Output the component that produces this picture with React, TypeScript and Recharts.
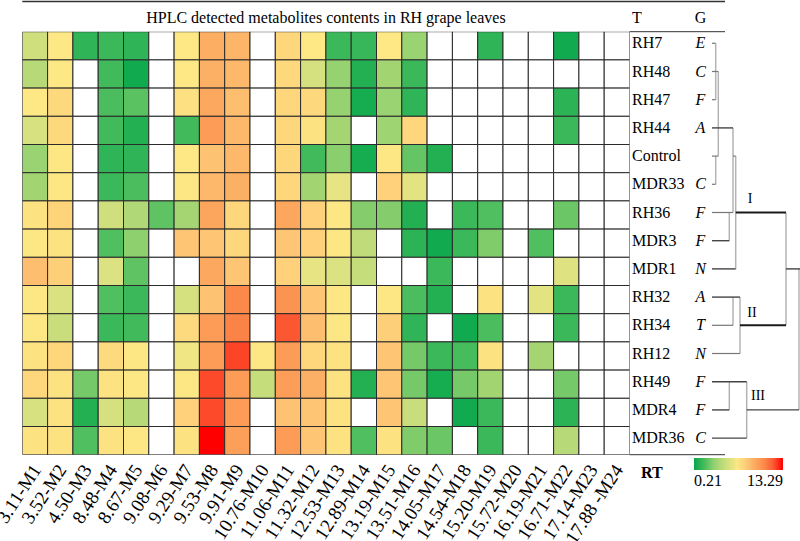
import React from "react"
import { ScatterChart, Scatter, XAxis, YAxis, Customized } from "recharts"

// metabolite retention times (x) and strains (y)
const METABOLITES = [
  "3.11-M1","3.52-M2","4.50-M3","8.48-M4","8.67-M5","9.08-M6","9.29-M7","9.53-M8",
  "9.91-M9","10.76-M10","11.06-M11","11.32-M12","12.53-M13","12.89-M14","13.19-M15","13.51-M16",
  "14.05-M17","14.54-M18","15.20-M19","15.72-M20","16.19-M21","16.71-M22","17.14-M23","17.88 -M24",
]
const STRAINS = ["RH7","RH48","RH47","RH44","Control","MDR33","RH36","MDR3","MDR1","RH32","RH34","RH12","RH49","MDR4","MDR36"]
const GROUPS = ["E","C","F","A","","C","F","F","N","A","T","N","F","F","C"]

// contents, null = not detected
const rh7 = [5.0,6.5,1.2,1.5,1.2,null,6.5,9.0,8.7,null,7.4,6.5,1.5,1.4,6.5,3.4,null,null,1.2,null,null,0.5,null,null]
const rh48 = [4.2,6.5,null,1.6,0.5,null,6.5,8.9,8.6,null,7.3,5.2,3.3,0.9,3.6,1.5,null,null,null,null,null,null,null,null]
const rh47 = [6.5,7.3,null,1.8,2.1,null,6.9,9.2,8.4,null,7.4,7.3,3.3,0.6,3.4,1.2,null,null,null,null,null,1.1,null,null]
const rh44 = [5.3,7.3,null,1.6,0.9,null,1.6,9.8,8.6,null,7.4,6.8,3.7,null,3.5,7.4,null,null,null,null,null,1.5,null,null]
const control = [3.4,6.6,null,1.2,1.2,null,6.5,8.2,8.6,null,7.4,1.6,3.0,0.6,6.6,2.3,0.9,null,null,null,null,null,null,null]
const mdr33 = [3.6,6.6,null,1.5,1.8,null,6.6,8.6,8.9,null,7.4,3.6,5.9,null,7.6,5.8,null,null,null,null,null,null,null,null]
const rh36 = [6.8,7.5,null,5.0,4.0,2.2,3.7,9.4,7.4,null,9.3,7.6,6.6,2.9,2.9,0.9,null,1.5,1.9,null,null,2.4,null,null]
const mdr3 = [6.6,6.8,null,1.9,3.1,null,8.1,8.1,7.4,null,8.1,7.6,6.6,4.5,null,1.1,0.5,1.5,2.8,null,1.9,null,null,null]
const mdr1 = [8.4,7.7,null,5.5,2.2,null,null,9.2,8.1,null,7.6,5.9,5.5,4.7,null,null,1.5,null,null,null,null,5.6,null,null]
const rh32 = [6.6,5.4,null,1.9,1.5,null,5.2,8.2,10.5,null,10.1,8.1,6.6,null,6.6,1.8,0.9,null,6.8,null,5.8,1.5,null,null]
const rh34 = [6.6,4.8,null,1.5,1.6,null,7.2,9.8,10.7,null,11.9,8.4,6.6,null,7.7,1.2,null,0.5,1.8,null,null,1.5,null,null]
const rh12 = [6.8,7.4,null,7.2,6.6,null,6.2,9.8,12.2,6.6,9.8,7.4,6.8,null,8.1,2.6,1.5,1.7,6.8,null,3.7,null,null,null]
const rh49 = [7.4,6.8,2.6,6.8,6.6,null,6.6,12.1,9.8,4.7,9.7,8.9,6.8,0.9,8.1,2.6,0.6,2.6,3.6,null,null,2.6,null,null]
const mdr4 = [5.3,6.8,0.9,5.2,4.2,null,7.6,12.1,9.8,null,8.2,8.1,6.8,null,8.1,4.8,null,0.5,1.5,null,null,1.1,null,null]
const mdr36 = [6.8,6.8,1.9,6.8,6.6,null,6.8,13.29,9.6,null,9.8,8.1,6.8,1.9,6.8,2.8,2.4,null,1.5,null,null,4.2,null,null]
const CONTENTS = [rh7,rh48,rh47,rh44,control,mdr33,rh36,mdr3,mdr1,rh32,rh34,rh12,rh49,mdr4,mdr36]

const V_MIN = 0.21
const V_MAX = 13.29
const COLOR_STOPS: [number, string][] = [
  [0, "#06a64c"], [0.1, "#3cb95a"], [0.22, "#8fd06e"], [0.3, "#b5d977"], [0.38, "#d4e07f"],
  [0.45, "#ece584"], [0.48, "#fde885"], [0.55, "#fed67c"], [0.62, "#fdc072"], [0.68, "#fcab60"],
  [0.74, "#fc9a55"], [0.8, "#fb8447"], [0.89, "#fb5a33"], [1, "#ff0000"],
]

// dendrogram: horizontals [row, fromDist, toDist, kind], verticals [dist, rowA, rowB]
const DEND_H: [number, number, number, string][] = [
  [0,0,3.7,"leaf"],[1,0,6.3,"leaf"],[2,0,3.7,"leaf"],[3,0,21,"link"],[4,0,6.3,"leaf"],[4,21,23.7,"leaf"],
  [5,0,3.7,"leaf"],[6,0,21,"leaf"],[6,23.7,74,"major"],[7,0,17.3,"link"],[8,0,23.7,"link"],[8,74,88,"link"],
  [9,0,28,"link"],[10,0,21,"leaf"],[10,28,74,"major"],[11,0,28,"leaf"],[12,0,34.7,"link"],[13,0,17.3,"link"],
  [13,34.7,87,"link"],[14,0,34.7,"link"],
]
const DEND_V: [number, number, number][] = [
  [3.7,0,2],[6.3,1,4],[3.7,4,5],[21,3,6],[17.3,6,7],[23.7,4,8],[74,6,10],[21,9,10],[28,9,11],[17.3,12,13],[34.7,12,14],[87,8,13],
]
const CLUSTERS: [string, number, number][] = [["I", 5.49, 38], ["II", 9.52, 40], ["III", 12.48, 46]]

const W = 800
const H = 541
const M = { top: 31.7, left: 22.3 }
const Y_AXIS_W = 170.5
const X_AXIS_H = 86.3
const PLOT_W = W - M.left - Y_AXIS_W
const PLOT_H = H - M.top - X_AXIS_H
const CELL_W = PLOT_W / METABOLITES.length
const CELL_H = PLOT_H / STRAINS.length
const FONT = "'Liberation Serif', 'Times New Roman', serif"
const serif = { fontFamily: FONT }

const rowY = (r: number) => M.top + (r + 0.5) * CELL_H - 2.5
const dendX = (d: number) => M.left + PLOT_W + 82.5 + d

function hexToRgb(h: string) {
  const n = parseInt(h.slice(1), 16)
  return [(n >> 16) & 255, (n >> 8) & 255, n & 255]
}

function colorFor(v: number | null) {
  if (v == null) return "#ffffff"
  const t = Math.max(0, Math.min(1, (v - V_MIN) / (V_MAX - V_MIN)))
  for (let i = 1; i < COLOR_STOPS.length; i++) {
    const [t1, c1] = COLOR_STOPS[i]
    const [t0, c0] = COLOR_STOPS[i - 1]
    if (t <= t1) {
      const f = (t - t0) / (t1 - t0)
      const a = hexToRgb(c0), b = hexToRgb(c1)
      const c = a.map((x, k) => Math.round(x + (b[k] - x) * f))
      return `rgb(${c[0]},${c[1]},${c[2]})`
    }
  }
  return COLOR_STOPS[COLOR_STOPS.length - 1][1]
}

const cells = CONTENTS.flatMap((row, r) =>
  row.map((v, c) => ({ x: c + 0.5, y: r + 0.5, v }))
)

function CellShape(props: any) {
  const { cx, cy, payload } = props
  return (
    <rect x={cx - CELL_W / 2} y={cy - CELL_H / 2} width={CELL_W} height={CELL_H}
      fill={colorFor(payload.v)} stroke="#2a2a2a" strokeWidth={1} />
  )
}

function XTick({ x, y, payload }: any) {
  const label = METABOLITES[Math.floor(payload.value)]
  const ax = x + 7
  const ay = y + 13
  return (
    <text x={ax} y={ay} textAnchor="end" transform={`rotate(-57, ${ax}, ${ay})`}
      style={serif} fontSize={19} fill="#000">{label}</text>
  )
}

function YTick({ x, y, payload }: any) {
  const i = Math.floor(payload.value)
  return (
    <g>
      <text x={x + 2.5} y={y + 2.5} style={serif} fontSize={16} fill="#000">{STRAINS[i]}</text>
      <text x={x + 71} y={y + 2.5} textAnchor="middle" style={serif} fontSize={16}
        fontStyle="italic" fill="#000">{GROUPS[i]}</text>
    </g>
  )
}

const STYLE: Record<string, { stroke: string; w: number }> = {
  leaf: { stroke: "#777", w: 1.2 },
  link: { stroke: "#444", w: 1.4 },
  major: { stroke: "#1a1a1a", w: 2 },
}

function Extras() {
  const right = M.left + PLOT_W
  const lineEnd = 725
  const barX = 694, barY = 458, barW = 89, barH = 12
  return (
    <g>
      <defs>
        <linearGradient id="rtGrad" x1="0" x2="1" y1="0" y2="0">
          {COLOR_STOPS.map(([t, c]) => <stop key={t} offset={t} stopColor={c} />)}
        </linearGradient>
      </defs>
      <line x1={M.left} x2={lineEnd} y1={1.5} y2={1.5} stroke="#333" strokeWidth={1.5} />
      <line x1={right} x2={lineEnd} y1={M.top} y2={M.top} stroke="#333" strokeWidth={1} />
      <line x1={right} x2={lineEnd} y1={M.top + PLOT_H} y2={M.top + PLOT_H} stroke="#333" strokeWidth={1} />
      <text x={M.left + PLOT_W / 2} y={23} textAnchor="middle" style={serif} fontSize={16}>
        HPLC detected metabolites contents in RH grape leaves
      </text>
      <text x={right + 2.5} y={23} style={serif} fontSize={16}>T</text>
      <text x={right + 71} y={23} textAnchor="middle" style={serif} fontSize={16}>G</text>

      {DEND_V.map(([d, a, b], i) => (
        <line key={"v" + i} x1={dendX(d)} x2={dendX(d)} y1={rowY(a)} y2={rowY(b)}
          stroke="#b3b3b3" strokeWidth={1.5} />
      ))}
      {DEND_H.map(([r, d0, d1, k], i) => (
        <line key={"h" + i} x1={dendX(d0)} x2={dendX(d1)} y1={rowY(r)} y2={rowY(r)}
          stroke={STYLE[k].stroke} strokeWidth={STYLE[k].w} />
      ))}
      {CLUSTERS.map(([t, r, d]) => (
        <text key={t} x={dendX(d)} y={rowY(r) + 5} textAnchor="middle" style={serif} fontSize={14}>{t}</text>
      ))}

      <text x={641} y={478} style={serif} fontSize={16} fontWeight="bold">RT</text>
      <rect x={barX} y={barY} width={barW} height={barH} fill="url(#rtGrad)" />
      <text x={barX} y={486} style={serif} fontSize={16}>{V_MIN.toFixed(2)}</text>
      <text x={barX + barW} y={486} textAnchor="end" style={serif} fontSize={16}>{V_MAX.toFixed(2)}</text>
    </g>
  )
}

export default function App() {
  return (
    <div style={{ position: "absolute", left: 0, top: 0, background: "#fff" }}>
      <ScatterChart width={W} height={H} margin={{ top: M.top, left: M.left, right: 0, bottom: 0 }}>
        <XAxis type="number" dataKey="x" domain={[0, METABOLITES.length]} allowDataOverflow
          ticks={METABOLITES.map((_, i) => i + 0.5)} interval={0} height={X_AXIS_H}
          axisLine={false} tickLine={false} tickSize={0} tick={<XTick />} />
        <YAxis type="number" dataKey="y" domain={[0, STRAINS.length]} reversed allowDataOverflow
          ticks={STRAINS.map((_, i) => i + 0.5)} interval={0} orientation="right" width={Y_AXIS_W}
          axisLine={false} tickLine={false} tickSize={0} tickMargin={0} tick={<YTick />} />
        <Scatter data={cells} shape={<CellShape />} isAnimationActive={false} />
        <Customized component={Extras} />
      </ScatterChart>
    </div>
  )
}
